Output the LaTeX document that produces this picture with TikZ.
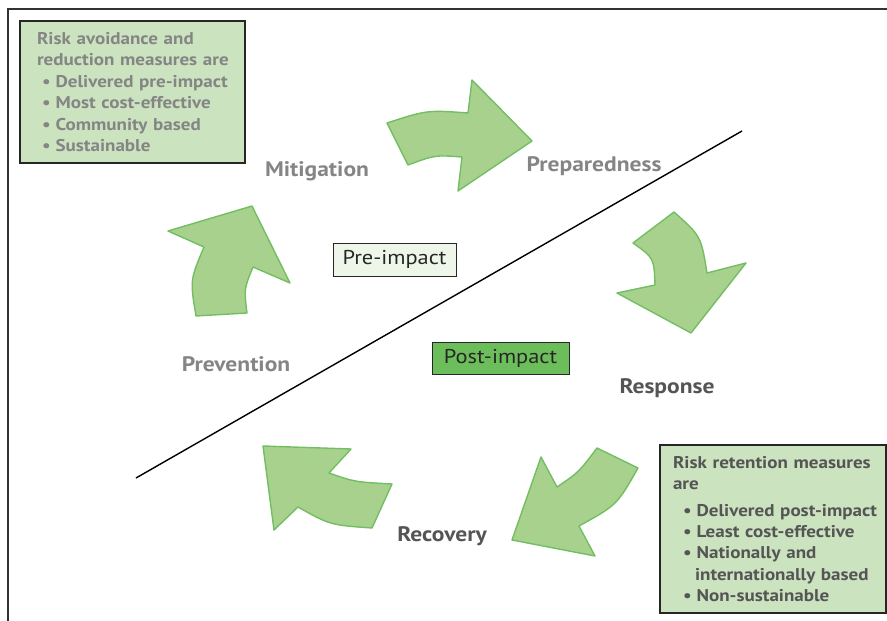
\documentclass[tikz,border=0pt]{standalone}
\usepackage{fontspec}
\setmainfont[FakeStretch=1.12]{PT Sans}
\definecolor{arrfill}{HTML}{A9D18E}
\definecolor{arrline}{HTML}{72BE62}
\definecolor{boxfill}{HTML}{CBE3BF}
\definecolor{prefill}{HTML}{EEF6EA}
\definecolor{postfill}{HTML}{6CBE5B}
\definecolor{lightgrey}{HTML}{858585}
\definecolor{darkgrey}{HTML}{555555}
\tikzset{
  cyclearrow/.style={fill=arrfill, draw=arrline, line width=1.4pt, line join=round},
  infobox/.style={draw=black!85, line width=1.1pt, fill=boxfill, align=left, inner ysep=0pt,
    font=\bfseries\fontsize{17}{21.4}\selectfont},
  phasebox/.style={draw=black!85, line width=1pt, inner sep=0pt, font=\fontsize{20}{22}\selectfont, text=black!85},
  phaselabel/.style={font=\bfseries\fontsize{21}{22}\selectfont, inner sep=0pt},
}
\newcommand{\bul}[2]{\mbox{\hspace*{#1}\textbullet\hspace{5pt}#2}}
\begin{document}
\begin{tikzpicture}[x=1pt,y=-1pt]
\useasboundingbox (0,0) rectangle (887,621);
% frame
\draw[line width=2pt, black!80] (887,9) -- (8,9) -- (8,621);
% dividing line
\coordinate (lineA) at (136,478);
\coordinate (lineB) at (742,131);
\draw[line width=1.4pt] (lineA) -- (lineB);

% arrows
\draw[cyclearrow] (387,123) .. controls (427,110) .. (468,113) -- (472,80) -- (532,141) -- (458,191)
  -- (462,157) .. controls (435,155) .. (408,165) -- cycle;
\draw[cyclearrow] (674,212) .. controls (701,236) .. (707,273) -- (746,263) -- (691,333) -- (617,293)
  -- (655,285) .. controls (654,258) .. (633,243) -- cycle;
\draw[cyclearrow] (597,448) .. controls (579,472) .. (557,487) -- (541,457) -- (512,540) -- (595,556)
  -- (579,526) .. controls (617,505) .. (638,468) -- cycle;
\draw[cyclearrow] (392,484) .. controls (355,482) .. (329,473) -- (351,449) -- (263,446) -- (274,530)
  -- (298,507) .. controls (330,525) .. (372,528) -- cycle;
\draw[cyclearrow] (196,316) .. controls (190,280) .. (204,247) -- (168,231) -- (252,206) -- (290,283)
  -- (253,267) .. controls (244,289) .. (247,313) -- cycle;

% labels
\node[phaselabel, text=lightgrey] (mit) at (317,171) {Mitigation};
\node[phaselabel, text=lightgrey] (prep) at (594,166) {Preparedness};
\node[phaselabel, text=lightgrey] (prev) at (236,364) {Prevention};
\node[phaselabel, text=darkgrey] (resp) at (667,388) {Response};
\node[phaselabel, text=darkgrey] (rec) at (442,536) {Recovery};

% impact boxes
\node[phasebox, fill=prefill, minimum width=123pt, minimum height=33pt] (pre) at (394.5,259.5) {Pre-impact};
\node[phasebox, fill=postfill, minimum width=137pt, minimum height=32pt] (post) at (500.5,358) {Post-impact};

% info boxes
\node[infobox, text=lightgrey, inner xsep=17pt, text width=191pt, minimum height=142pt] (avoid) at (132.5,92)
  {\mbox{Risk avoidance and}\\\mbox{reduction measures are}\\\bul{5pt}{Delivered pre-impact}\\\bul{5pt}{Most cost-effective}\\\bul{5pt}{Community based}\\\bul{5pt}{Sustainable}};
\node[infobox, text=darkgrey, inner xsep=13pt, text width=200pt, minimum height=168pt] (retain) at (773,529)
  {\mbox{Risk retention measures}\\are\\[5pt]\bul{10pt}{Delivered post-impact}\\\bul{10pt}{Least cost-effective}\\\bul{10pt}{Nationally and}\\\mbox{\hspace*{22pt}internationally based}\\\bul{10pt}{Non-sustainable}};
\end{tikzpicture}
\end{document}
